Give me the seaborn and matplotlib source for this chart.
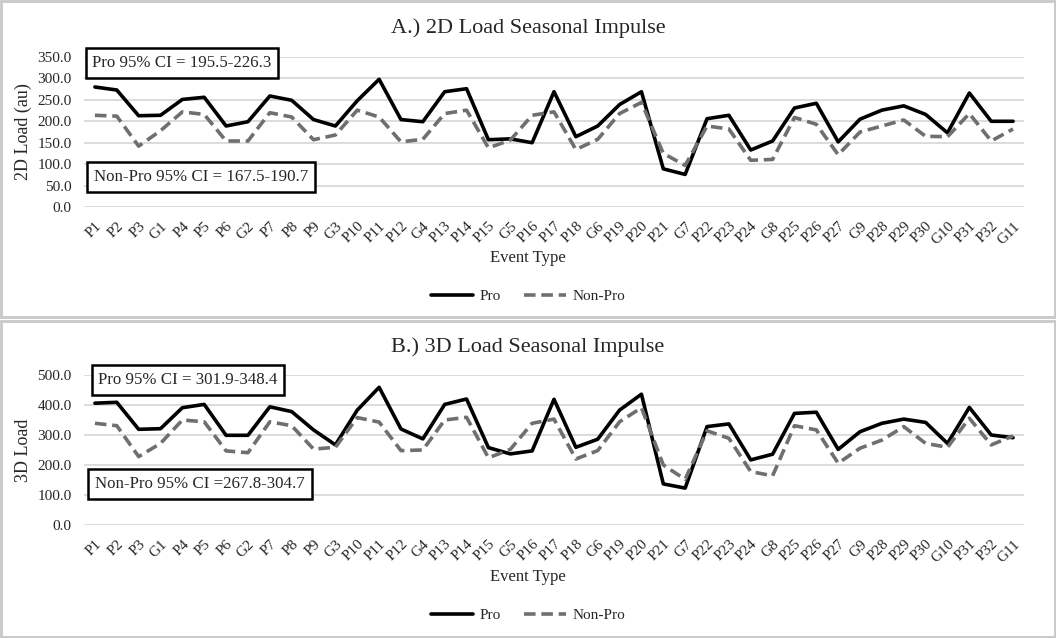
import numpy as np
import pandas as pd
import matplotlib
matplotlib.use("Agg")
import matplotlib.pyplot as plt
import seaborn as sns
from matplotlib.patches import Rectangle

events = ["P1", "P2", "P3", "G1", "P4", "P5", "P6", "G2", "P7", "P8", "P9", "G3",
          "P10", "P11", "P12", "G4", "P13", "P14", "P15", "G5", "P16", "P17", "P18",
          "G6", "P19", "P20", "P21", "G7", "P22", "P23", "P24", "G8", "P25", "P26",
          "P27", "G9", "P28", "P29", "P30", "G10", "P31", "P32", "G11"]

pro_2d = [280, 273, 213, 214, 251, 256, 189, 199, 259, 249, 204, 189, 248, 298, 204,
          199, 269, 276, 157, 159, 150, 269, 164, 189, 239, 269, 89, 76, 206, 214,
          133, 154, 231, 242, 152, 205, 226, 236, 216, 173, 266, 200, 200]
nonpro_2d = [214, 212, 142, 178, 222, 216, 154, 154, 220, 210, 157, 168, 226, 210, 152,
             158, 218, 226, 138, 156, 214, 222, 134, 158, 218, 244, 125, 97, 189, 182,
             109, 111, 209, 193, 122, 175, 189, 203, 165, 164, 218, 154, 182]

pro_3d = [406, 409, 319, 321, 391, 402, 299, 299, 394, 378, 317, 267, 383, 459, 320,
          287, 402, 420, 258, 237, 247, 419, 259, 286, 383, 436, 137, 123, 328, 337,
          217, 236, 372, 376, 252, 311, 339, 353, 342, 272, 392, 300, 291]
nonpro_3d = [339, 331, 228, 272, 350, 344, 247, 241, 344, 331, 253, 259, 358, 343, 248,
             250, 350, 359, 224, 252, 339, 353, 220, 248, 344, 391, 200, 152, 314, 289,
             178, 164, 331, 317, 206, 256, 283, 328, 272, 259, 356, 267, 297]

groups = ["Pro", "Non-Pro"]
titles = ["A.) 2D Load Seasonal Impulse", "B.) 3D Load Seasonal Impulse"]
ylabels = ["2D Load (au)", "3D Load"]
yticks_list = [np.arange(0, 351, 50), np.arange(0, 501, 100)]
ci_texts = [("Pro 95% CI = 195.5-226.3", "Non-Pro 95% CI = 167.5-190.7"),
            ("Pro 95% CI = 301.9-348.4", "Non-Pro 95% CI =267.8-304.7")]

sns.set_theme(style="white")
plt.rcParams["font.family"] = ["Liberation Serif", "DejaVu Serif"]

W, H = 1056, 638
fig = plt.figure(figsize=(W / 100, H / 100), dpi=100)

# panel frames
fig.patches.append(Rectangle((0.5 / W, 1 - 317 / H), (W - 2) / W, 316 / H,
                             transform=fig.transFigure, fill=False,
                             edgecolor="#c8c8c8", linewidth=2))
fig.patches.append(Rectangle((0.5 / W, 1 / H), (W - 2) / W, 316 / H,
                             transform=fig.transFigure, fill=False,
                             edgecolor="#c8c8c8", linewidth=2))

panels = [
    dict(pro=pro_2d, non=nonpro_2d, y0=207, ytop=57, off=0),
    dict(pro=pro_3d, non=nonpro_3d, y0=525, ytop=375, off=319),
]

x_left, x_right = 84, 1024
palette = {"Pro": "#000000", "Non-Pro": "#6f6f6f"}
dashes = {"Pro": "", "Non-Pro": (3.2, 1.6)}

for i, p in enumerate(panels):
    ax = fig.add_axes([x_left / W, 1 - p["y0"] / H, (x_right - x_left) / W,
                       (p["y0"] - p["ytop"]) / H])
    df = pd.DataFrame({
        "idx": list(range(len(events))) * 2,
        "Event Type": events * 2,
        "Load": p["pro"] + p["non"],
        "Group": ["Pro"] * len(events) + ["Non-Pro"] * len(events),
    })
    sns.lineplot(data=df, x="idx", y="Load", hue="Group", style="Group",
                 hue_order=groups, style_order=groups, palette=palette,
                 dashes=dashes, linewidth=2.6, ax=ax, legend="full")
    ax.set_xlim(-0.5, len(events) - 0.5)
    yt = yticks_list[i]
    ax.set_ylim(0, yt[-1])
    ax.set_yticks(yt)
    ax.set_yticklabels([f"{v:.1f}" for v in yt], fontsize=11)
    ax.set_xticks(range(len(events)))
    ax.set_xticklabels(events, rotation=45, ha="right", rotation_mode="anchor",
                       fontsize=11)
    ax.tick_params(axis="x", pad=9, length=0)
    ax.tick_params(axis="y", pad=9, length=0)
    ax.yaxis.grid(True, color="#d9d9d9", linewidth=1.3)
    ax.xaxis.grid(False)
    for s in ax.spines.values():
        s.set_visible(False)
    ax.set_axisbelow(True)
    ax.set_ylabel(ylabels[i], fontsize=13, labelpad=4)
    ax.set_xlabel("")
    off = p["off"]
    fig.text(0.5, 1 - (off + 258) / H, "Event Type", ha="center", va="center",
             fontsize=12)
    fig.text(0.5, 1 - (off + 28) / H, titles[i], ha="center", va="center",
             fontsize=16)
    handles, labels = ax.get_legend_handles_labels()
    ax.get_legend().remove()
    fig.legend(handles, labels, loc="center", ncol=2, frameon=False,
               bbox_to_anchor=(0.5, 1 - (off + 296) / H), fontsize=11,
               handlelength=2.8, columnspacing=1.5, handletextpad=0.4)
    bbox = dict(boxstyle="square,pad=0.4", facecolor="white", edgecolor="black",
                linewidth=1.8)
    pro_xy = [(182, 63), (188, 380)][i]
    non_xy = [(201, 177), (200, 484)][i]
    fig.text(pro_xy[0] / W, 1 - pro_xy[1] / H, ci_texts[i][0], ha="center",
             va="center", fontsize=12.2, bbox=bbox, zorder=10)
    fig.text(non_xy[0] / W, 1 - non_xy[1] / H, ci_texts[i][1], ha="center",
             va="center", fontsize=12.2, bbox=bbox, zorder=10)

fig.savefig("out.png", dpi=100, facecolor="white")
